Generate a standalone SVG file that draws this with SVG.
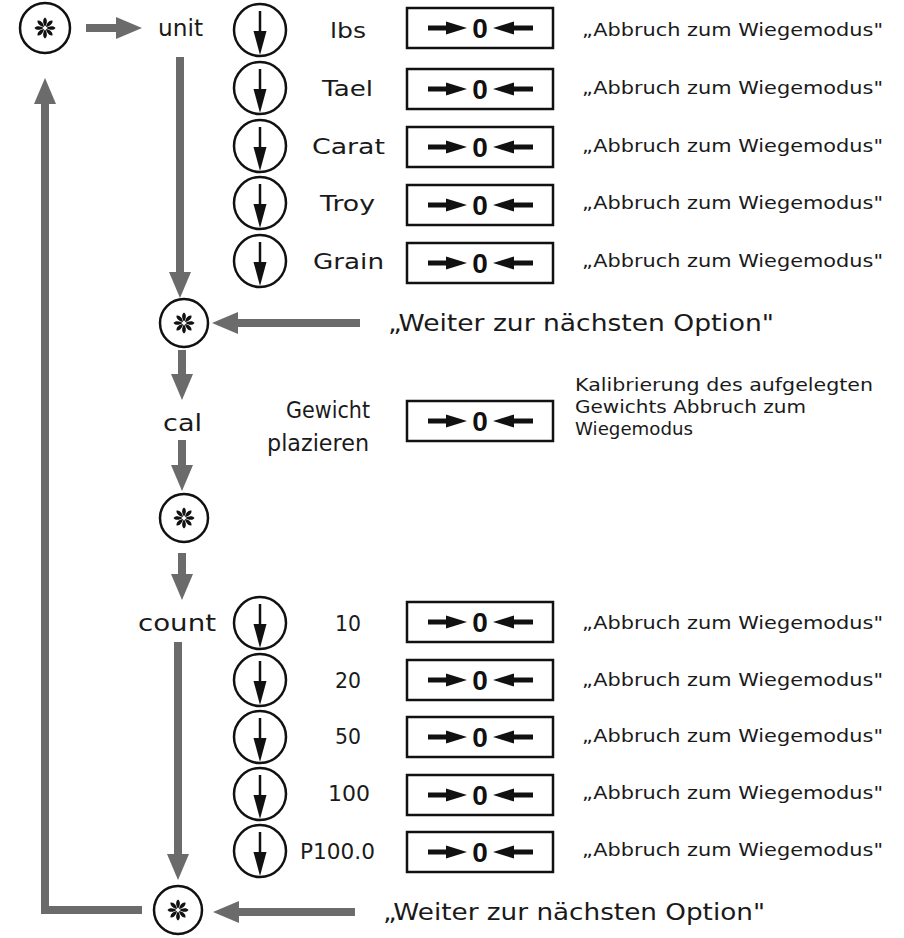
<svg xmlns="http://www.w3.org/2000/svg" width="904" height="938" viewBox="0 0 904 938">
<style>
.t{font-family:"DejaVu Sans","Liberation Sans",sans-serif;fill:#1a1a1a}
.lab{font-size:22px}
.big{font-size:23px}
.note{font-size:17px}
.zero{font-family:"Liberation Sans",Arial,sans-serif;font-weight:bold;font-size:28px;fill:#111;text-anchor:middle}
.circ{fill:#fff;stroke:#111;stroke-width:2.5}
.box{fill:#fff;stroke:#111;stroke-width:2.5}
.bk{stroke:#111;stroke-width:5}
.ga{stroke:#6b6b6b;stroke-width:8;fill:none}
</style>
<defs>
<marker id="gh" viewBox="0 0 26 22" markerUnits="userSpaceOnUse" markerWidth="26" markerHeight="22" refX="0" refY="11" orient="auto">
<path d="M0,0 L26,11 L0,22 Z" fill="#6b6b6b"/>
</marker>
<path id="petal" d="M0,-1.5 C-2.2,-4 -2.7,-9 0,-10.5 C2.7,-9 2.2,-4 0,-1.5 Z" fill="#111"/>
<g id="star">
<use href="#petal"/><use href="#petal" transform="rotate(45)"/><use href="#petal" transform="rotate(90)"/><use href="#petal" transform="rotate(135)"/><use href="#petal" transform="rotate(180)"/><use href="#petal" transform="rotate(225)"/><use href="#petal" transform="rotate(270)"/><use href="#petal" transform="rotate(315)"/>
</g>
<g id="down">
<circle class="circ" cx="0" cy="0" r="26"/>
<line x1="0" y1="-19" x2="0" y2="4" stroke="#111" stroke-width="2.5"/>
<path d="M-6.5,1 L6.5,1 L0,25 Z" fill="#111"/>
</g>
<g id="zb">
<rect class="box" x="407" y="-20" width="146" height="40"/>
<line class="bk" x1="428" y1="0" x2="448" y2="0"/>
<path d="M446,-6.5 L467,0 L446,6.5 Z" fill="#111"/>
<path d="M514,-6.5 L493,0 L514,6.5 Z" fill="#111"/>
<line class="bk" x1="512" y1="0" x2="533" y2="0"/>
</g>
</defs>

<g id="connectors">
<line class="ga" x1="86" y1="28" x2="116" y2="28" marker-end="url(#gh)"/>
<line class="ga" x1="180" y1="57" x2="180" y2="272" marker-end="url(#gh)"/>
<line class="ga" x1="360" y1="323" x2="238" y2="323" marker-end="url(#gh)"/>
<line class="ga" x1="182" y1="350" x2="182" y2="374" marker-end="url(#gh)"/>
<line class="ga" x1="182" y1="440" x2="182" y2="465" marker-end="url(#gh)"/>
<line class="ga" x1="182" y1="553" x2="182" y2="574" marker-end="url(#gh)"/>
<line class="ga" x1="178" y1="642" x2="178" y2="854" marker-end="url(#gh)"/>
<line class="ga" x1="355" y1="912" x2="239" y2="912" marker-end="url(#gh)"/>
<polyline class="ga" points="142,910 45,910 45,104" marker-end="url(#gh)"/>
</g>

<g id="star1"><circle class="circ" cx="45" cy="28" r="25"/><use href="#star" x="45" y="28"/></g>
<g id="unit"><text class="t big" x="158" y="36" textLength="45" lengthAdjust="spacingAndGlyphs">unit</text></g>

<g id="lbs"><use href="#down" x="260" y="30"/><text class="t lab" x="330" y="38" textLength="36" lengthAdjust="spacingAndGlyphs">lbs</text><use href="#zb" y="28"/><text class="zero" x="480" y="38">0</text><text class="t note" x="582" y="36" textLength="301" lengthAdjust="spacingAndGlyphs">„Abbruch zum Wiegemodus"</text></g>
<g id="tael"><use href="#down" x="260" y="88"/><text class="t lab" x="322" y="96" textLength="51" lengthAdjust="spacingAndGlyphs">Tael</text><use href="#zb" y="89"/><text class="zero" x="480" y="99">0</text><text class="t note" x="582" y="94" textLength="301" lengthAdjust="spacingAndGlyphs">„Abbruch zum Wiegemodus"</text></g>
<g id="carat"><use href="#down" x="260" y="146"/><text class="t lab" x="312" y="154" textLength="73" lengthAdjust="spacingAndGlyphs">Carat</text><use href="#zb" y="147"/><text class="zero" x="480" y="157">0</text><text class="t note" x="582" y="152" textLength="301" lengthAdjust="spacingAndGlyphs">„Abbruch zum Wiegemodus"</text></g>
<g id="troy"><use href="#down" x="260" y="203"/><text class="t lab" x="320" y="211" textLength="55" lengthAdjust="spacingAndGlyphs">Troy</text><use href="#zb" y="205"/><text class="zero" x="480" y="215">0</text><text class="t note" x="582" y="209" textLength="301" lengthAdjust="spacingAndGlyphs">„Abbruch zum Wiegemodus"</text></g>
<g id="grain"><use href="#down" x="260" y="261"/><text class="t lab" x="313" y="269" textLength="71" lengthAdjust="spacingAndGlyphs">Grain</text><use href="#zb" y="263"/><text class="zero" x="480" y="273">0</text><text class="t note" x="582" y="267" textLength="301" lengthAdjust="spacingAndGlyphs">„Abbruch zum Wiegemodus"</text></g>

<g id="star2"><circle class="circ" cx="184" cy="323" r="24"/><use href="#star" x="184" y="323"/></g>
<g id="next1"><text class="t big" x="388" y="331" textLength="386" lengthAdjust="spacingAndGlyphs">„Weiter zur nächsten Option"</text></g>

<g id="cal"><text class="t big" x="163" y="431" textLength="39" lengthAdjust="spacingAndGlyphs">cal</text></g>
<g id="place"><text class="t big" x="286" y="418" textLength="84" lengthAdjust="spacingAndGlyphs">Gewicht</text><text class="t big" x="267" y="451" textLength="102" lengthAdjust="spacingAndGlyphs">plazieren</text></g>
<g id="calbox"><use href="#zb" y="421"/><text class="zero" x="480" y="431">0</text></g>
<g id="calnote"><text class="t note" x="575" y="391" textLength="298" lengthAdjust="spacingAndGlyphs">Kalibrierung des aufgelegten</text><text class="t note" x="575" y="413" textLength="231" lengthAdjust="spacingAndGlyphs">Gewichts Abbruch zum</text><text class="t note" x="575" y="435" textLength="118" lengthAdjust="spacingAndGlyphs">Wiegemodus</text></g>

<g id="star3"><circle class="circ" cx="184" cy="518" r="24"/><use href="#star" x="184" y="518"/></g>
<g id="count"><text class="t big" x="138" y="631" textLength="78" lengthAdjust="spacingAndGlyphs">count</text></g>

<g id="c10"><use href="#down" x="260" y="623"/><text class="t lab" x="335" y="631" textLength="26" lengthAdjust="spacingAndGlyphs">10</text><use href="#zb" y="622"/><text class="zero" x="480" y="632">0</text><text class="t note" x="582" y="629" textLength="301" lengthAdjust="spacingAndGlyphs">„Abbruch zum Wiegemodus"</text></g>
<g id="c20"><use href="#down" x="260" y="680"/><text class="t lab" x="335" y="688" textLength="26" lengthAdjust="spacingAndGlyphs">20</text><use href="#zb" y="680"/><text class="zero" x="480" y="690">0</text><text class="t note" x="582" y="686" textLength="301" lengthAdjust="spacingAndGlyphs">„Abbruch zum Wiegemodus"</text></g>
<g id="c50"><use href="#down" x="260" y="737"/><text class="t lab" x="335" y="744" textLength="26" lengthAdjust="spacingAndGlyphs">50</text><use href="#zb" y="737"/><text class="zero" x="480" y="747">0</text><text class="t note" x="582" y="742" textLength="301" lengthAdjust="spacingAndGlyphs">„Abbruch zum Wiegemodus"</text></g>
<g id="c100"><use href="#down" x="260" y="794"/><text class="t lab" x="328" y="801" textLength="42" lengthAdjust="spacingAndGlyphs">100</text><use href="#zb" y="795"/><text class="zero" x="480" y="805">0</text><text class="t note" x="582" y="799" textLength="301" lengthAdjust="spacingAndGlyphs">„Abbruch zum Wiegemodus"</text></g>
<g id="cp100"><use href="#down" x="260" y="851"/><text class="t lab" x="300" y="859" textLength="75" lengthAdjust="spacingAndGlyphs">P100.0</text><use href="#zb" y="852"/><text class="zero" x="480" y="862">0</text><text class="t note" x="582" y="856" textLength="301" lengthAdjust="spacingAndGlyphs">„Abbruch zum Wiegemodus"</text></g>

<g id="star4"><circle class="circ" cx="178" cy="910" r="24"/><use href="#star" x="178" y="910"/></g>
<g id="next2"><text class="t big" x="383" y="920" textLength="382" lengthAdjust="spacingAndGlyphs">„Weiter zur nächsten Option"</text></g>
</svg>
